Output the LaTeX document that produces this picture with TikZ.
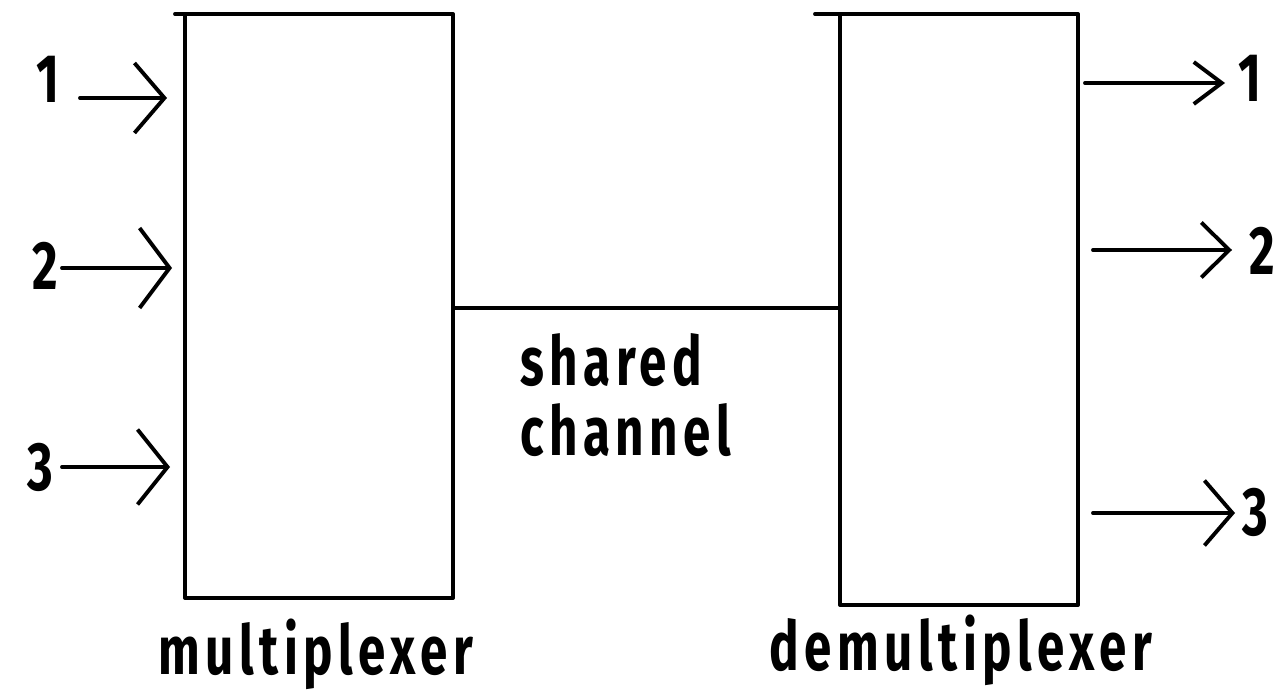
\documentclass[tikz,border=0pt]{standalone}
\usepackage{fontspec}
\newfontfamily\lblfont{Fira Sans}[FakeStretch=0.72,LetterSpace=8]
\usetikzlibrary{calc,arrows.meta}

\tikzset{
  lbl/.style={font=\lblfont\bfseries\fontsize{39}{44}\selectfont,inner sep=0pt},
  wire/.style={line width=2.2pt},
}

\begin{document}
\begin{tikzpicture}[x=0.02cm,y=-0.02cm,line cap=round,line join=round]
\useasboundingbox (0,0) rectangle (1281,692);
%\draw[help lines,step=50] (0,0) grid (1281,692);
% multiplexer
\coordinate (M_1) at (185,14);
\coordinate (M_2) at (453,14);
\coordinate (M_3) at (453,598);
\coordinate (M_4) at (185,598);
\draw[wire] (175,14)--(M_2)--(M_3)--(M_4)--(M_1);
% demultiplexer
\coordinate (D_1) at (840,14);
\coordinate (D_2) at (1078,14);
\coordinate (D_3) at (1078,605);
\coordinate (D_4) at (840,605);
\draw[wire] (815,14)--(D_2)--(D_3)--(D_4)--(D_1);
% shared channel
\coordinate (C_a) at (453,308);
\coordinate (C_b) at (840,308);
\draw[wire] (C_a)--(C_b);
\node[lbl,anchor=base west] (shared) at (520,385) {shared};
\node[lbl,anchor=base west] (channel) at (520,455) {channel};
\node[lbl,anchor=base] (mux) at (316,674) {multiplexer};
\node[lbl,anchor=base] (demux) at (961,670) {demultiplexer};
% inputs
\foreach \i/\y/\s/\e/\w/\lx/\ly in {1/98/80/167/1.4/48/103,2/268/62/172/1.6/45/290,3/467/62/170/1.5/40/490}{
  \coordinate (in\i_a) at (\s,\y);
  \coordinate (in\i_b) at (\e,\y);
  \node[lbl,anchor=base] (in\i) at (\lx,\ly) {\i};
  \draw[wire,-{Straight Barb[length=0.6cm,width=\w cm]}] (in\i_a)--(in\i_b);
}
% outputs
\foreach \i/\y/\s/\e/\w/\lx/\ly in {1/83/1085/1225/0.84/1250/102,2/250/1093/1232/1.1/1262/275,3/513/1093/1235/1.3/1255/535}{
  \coordinate (out\i_a) at (\s,\y);
  \coordinate (out\i_b) at (\e,\y);
  \node[lbl,anchor=base] (out\i) at (\lx,\ly) {\i};
  \draw[wire,-{Straight Barb[length=0.56cm,width=\w cm]}] (out\i_a)--(out\i_b);
}
\end{tikzpicture}
\end{document}
